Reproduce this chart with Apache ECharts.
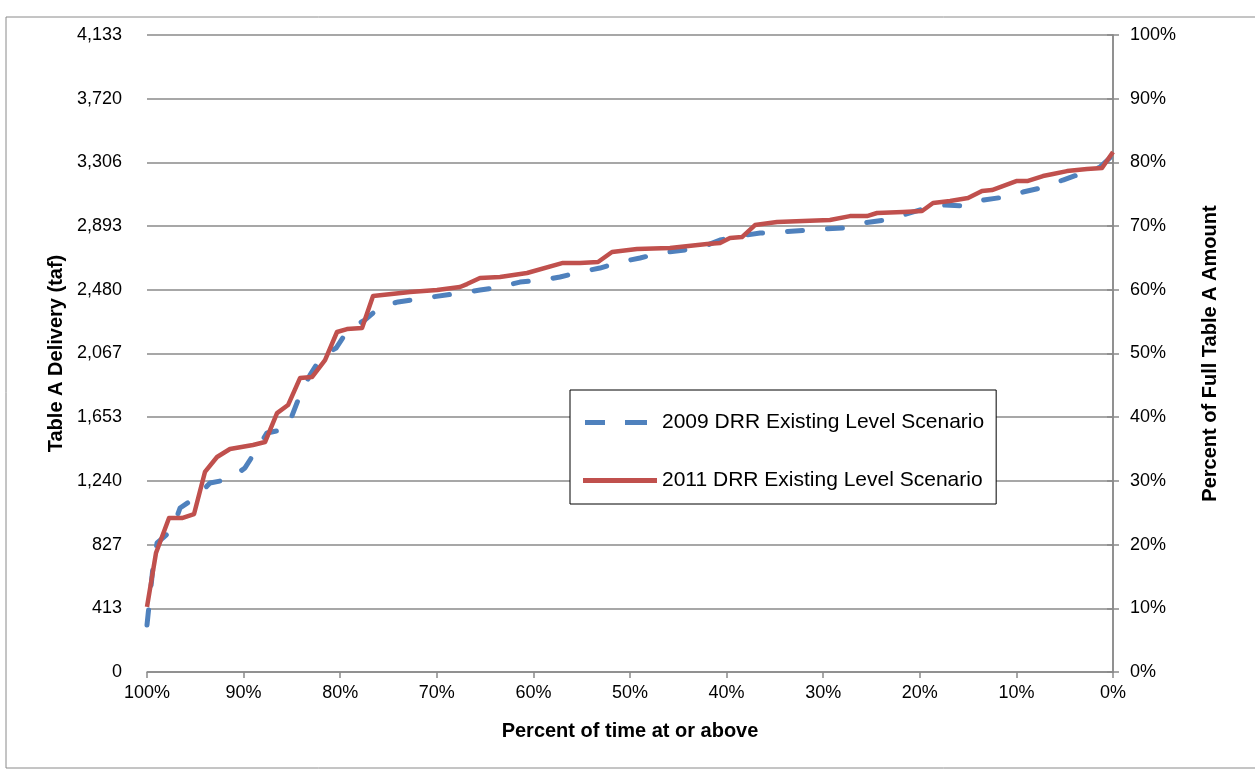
<!DOCTYPE html>
<html>
<head>
<meta charset="utf-8">
<script src="https://cdn.jsdelivr.net/npm/echarts@6/dist/echarts.min.js"></script>
<style>
  html, body { margin: 0; padding: 0; background: #fff; }
  #chart { width: 1255px; height: 772px; }
</style>
</head>
<body>
<div id="chart"></div>
<script>
// exceedance percent / delivery (taf)
const pct2009 = [100, 99.38, 98.96, 97.41, 96.58, 95.03, 93.48, 91.41, 89.86, 88.82, 87.58, 85.51, 84.16, 83.13, 81.88, 80.43, 79.19, 77.43, 75.88, 74.02, 71.95, 67.6, 65.53, 63.46, 61.39, 59.11, 57.25, 55.18, 53.11, 51.04, 48.96, 46.89, 42.75, 40.68, 38.61, 36.54, 34.27, 30.02, 27.95, 25.88, 23.6, 21.74, 19.67, 17.6, 15.32, 13.46, 11.18, 9.32, 7.04, 5.18, 3.42, 1.35, 0];
const taf2009 = [305, 681, 837, 921, 1064, 1129, 1226, 1252, 1324, 1427, 1551, 1577, 1797, 1927, 2050, 2102, 2219, 2284, 2368, 2401, 2420, 2459, 2478, 2498, 2530, 2543, 2563, 2595, 2621, 2660, 2686, 2718, 2751, 2803, 2829, 2848, 2855, 2874, 2881, 2913, 2933, 2965, 3004, 3030, 3023, 3062, 3082, 3114, 3147, 3192, 3231, 3276, 3354];

const pct2011 = [100, 99.07, 97.72, 96.38, 95.13, 94.0, 92.75, 91.41, 89.03, 87.78, 86.54, 85.4, 84.16, 82.92, 81.57, 80.33, 79.3, 77.74, 76.6, 72.77, 69.98, 67.6, 66.87, 65.53, 63.46, 60.66, 56.94, 55.18, 53.31, 51.86, 49.28, 45.86, 42.03, 40.68, 39.65, 38.41, 37.06, 34.78, 32.09, 29.3, 27.23, 25.47, 24.43, 21.74, 19.77, 18.63, 16.87, 15.01, 13.56, 12.53, 9.94, 8.8, 7.25, 6.21, 4.76, 2.69, 1.14, 0];
const taf2011 = [422, 772, 999, 999, 1025, 1298, 1395, 1447, 1473, 1492, 1680, 1732, 1907, 1914, 2024, 2206, 2225, 2232, 2439, 2465, 2478, 2498, 2517, 2556, 2563, 2589, 2654, 2654, 2660, 2725, 2744, 2751, 2777, 2783, 2816, 2822, 2900, 2920, 2926, 2933, 2958, 2958, 2978, 2984, 2991, 3043, 3056, 3075, 3121, 3127, 3186, 3186, 3218, 3231, 3250, 3263, 3270, 3374];

const leftTicks = ["0", "413", "827", "1,240", "1,653", "2,067", "2,480", "2,893", "3,306", "3,720", "4,133"];
const seriesNames = ["2009 DRR Existing Level Scenario", "2011 DRR Existing Level Scenario"];

const chart = echarts.init(document.getElementById("chart"));
const gridGray = "#8a8a8a";
const font = "Liberation Sans, Arial, sans-serif";

// legend swatches: a dashed and a solid bar, 74 x 5
const dashIcon = "path://M2,0H22V5H2Z M42,0H64V5H42Z M73.9,2.4H74V2.6H73.9Z M0,2.4H0.1V2.6H0Z";
const solidIcon = "path://M0,0H74V5H0Z";

chart.setOption({
  animation: false,
  textStyle: { fontFamily: font },
  graphic: [
    {
      type: "rect",
      shape: { x: 6, y: 17, width: 1300, height: 751 },
      style: { fill: "none", stroke: "#8a8a8a", lineWidth: 1 },
    },
  ],
  grid: { left: 147, right: 142, top: 35, bottom: 100 },
  legend: {
    orient: "vertical",
    left: 570,
    top: 390,
    width: 430,
    padding: [22, 12, 13, 13],
    itemGap: 37,
    itemWidth: 74,
    itemHeight: 5,
    borderColor: "#000",
    borderWidth: 1,
    backgroundColor: "#fff",
    textStyle: { fontSize: 21, color: "#000", fontFamily: font },
    data: [
      { name: seriesNames[0], icon: dashIcon },
      { name: seriesNames[1], icon: solidIcon },
    ],
  },
  xAxis: {
    type: "value",
    min: 0,
    max: 100,
    interval: 10,
    inverse: true,
    name: "Percent of time at or above",
    nameLocation: "middle",
    nameGap: 49,
    nameTextStyle: { fontSize: 20, fontWeight: "bold", color: "#000" },
    axisLine: { lineStyle: { color: gridGray, width: 1.5 } },
    axisTick: { show: true, length: 6, lineStyle: { color: gridGray, width: 1.5 } },
    axisLabel: { formatter: (v) => v + "%", fontSize: 18, color: "#000", margin: 12 },
    splitLine: { show: false },
  },
  yAxis: [
    {
      type: "value",
      min: 0,
      max: 4133,
      interval: 413.3,
      name: "Table A Delivery (taf)",
      nameLocation: "middle",
      nameGap: 80,
      nameTextStyle: { fontSize: 20, fontWeight: "bold", color: "#000" },
      axisLine: { show: true, lineStyle: { color: gridGray, width: 1.5 } },
      axisTick: { show: true, length: 6, lineStyle: { color: gridGray, width: 1.5 } },
      axisLabel: {
        formatter: (v) => leftTicks[Math.round(v / 413.3)],
        fontSize: 18,
        color: "#000",
        margin: 25,
      },
      splitLine: { lineStyle: { color: gridGray, width: 1.5 } },
    },
    {
      type: "value",
      min: 0,
      max: 100,
      interval: 10,
      position: "right",
      name: "Percent of Full Table A Amount",
      nameLocation: "middle",
      nameGap: 87,
      nameRotate: 90,
      nameTextStyle: { fontSize: 20, fontWeight: "bold", color: "#000" },
      axisLine: { show: true, lineStyle: { color: gridGray, width: 1.5 } },
      axisTick: { show: true, length: 6, lineStyle: { color: gridGray, width: 1.5 } },
      axisLabel: { formatter: (v) => v + "%", fontSize: 18, color: "#000", margin: 17 },
      splitLine: { show: false },
    },
  ],
  series: [
    {
      name: seriesNames[0],
      type: "line",
      yAxisIndex: 0,
      showSymbol: false,
      symbol: "none",
      data: pct2009.map((p, i) => [p, taf2009[i]]),
      lineStyle: { color: "#4f81bd", width: 5, type: [15, 25], cap: "round", join: "round" },
      itemStyle: { color: "#4f81bd" },
      z: 2,
    },
    {
      name: seriesNames[1],
      type: "line",
      yAxisIndex: 0,
      showSymbol: false,
      symbol: "none",
      data: pct2011.map((p, i) => [p, taf2011[i]]),
      lineStyle: { color: "#c0504d", width: 4.5, join: "round" },
      itemStyle: { color: "#c0504d" },
      z: 3,
    },
  ],
});
</script>
</body>
</html>
